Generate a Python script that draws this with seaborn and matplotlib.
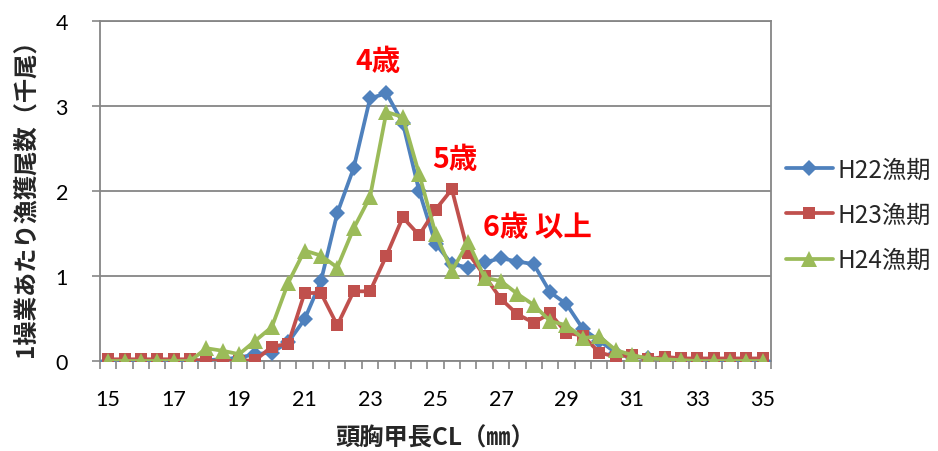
import numpy as np
import pandas as pd
import matplotlib
matplotlib.use("Agg")
import matplotlib.pyplot as plt
import seaborn as sns
from matplotlib.ticker import FixedLocator

# carapace length classes (mm)
sizes = [15, 15.5, 16, 16.5, 17, 17.5, 18, 18.5, 19, 19.5,
         20, 20.5, 21, 21.5, 22, 22.5, 23, 23.5, 24, 24.5,
         25, 25.5, 26, 26.5, 27, 27.5, 28, 28.5, 29, 29.5,
         30, 30.5, 31, 31.5, 32, 32.5, 33, 33.5, 34, 34.5, 35]

# catch per operation (thousand individuals)
h22 = [0, 0, 0, 0, 0, 0, 0.01, 0.02, 0.04, 0.08,
       0.10, 0.22, 0.49, 0.94, 1.74, 2.27, 3.09, 3.15, 2.80, 2.00,
       1.38, 1.14, 1.10, 1.16, 1.21, 1.17, 1.14, 0.81, 0.67, 0.38,
       0.24, 0.10, 0.05, 0.03, 0.02, 0.01, 0.01, 0, 0, 0, 0]
h23 = [0.02, 0.02, 0.02, 0.02, 0.02, 0.02, 0, 0, 0, 0.01,
       0.17, 0.20, 0.80, 0.80, 0.42, 0.82, 0.82, 1.24, 1.69, 1.48,
       1.78, 2.02, 1.27, 1.00, 0.73, 0.55, 0.45, 0.56, 0.33, 0.30,
       0.10, 0.05, 0.07, 0.02, 0.05, 0.03, 0.03, 0.03, 0.03, 0.03, 0.03]
h24 = [0, 0, 0, 0, 0, 0, 0.15, 0.12, 0.08, 0.24,
       0.40, 0.92, 1.30, 1.24, 1.10, 1.56, 1.93, 2.93, 2.87, 2.20,
       1.50, 1.06, 1.40, 0.98, 0.94, 0.79, 0.66, 0.47, 0.42, 0.27,
       0.29, 0.13, 0.07, 0.03, 0.02, 0.01, 0, 0, 0, 0, 0]

series_names = ["H22漁期", "H23漁期", "H24漁期"]
series_values = [h22, h23, h24]
colors = ["#4F81BD", "#C0504D", "#9BBB59"]
markers = ["D", "s", "^"]
marker_sizes = [8, 8.5, 11]

x_ticks = [15, 17, 19, 21, 23, 25, 27, 29, 31, 33, 35]
y_ticks = [0, 1, 2, 3, 4]

age_labels = ["4歳", "5歳", "6歳 以上"]
age_pos = [(23.25, 3.53), (25.6, 2.38), (28.1, 1.58)]

sns.set_theme(style="white")
plt.rcParams["font.family"] = ["Lato", "Noto Sans CJK JP", "DejaVu Sans"]

fig = plt.figure(figsize=(9.38, 4.52), dpi=100)
ax = fig.add_axes([100 / 938, 1 - 362 / 452, 671 / 938, 340 / 452])

for name, vals, col, mk, ms in zip(series_names, series_values, colors, markers, marker_sizes):
    df = pd.DataFrame({"size": sizes, "value": vals})
    sns.lineplot(data=df, x="size", y="value", ax=ax, color=col, linewidth=2.7,
                 marker=mk, markersize=ms, markeredgewidth=0, label=name,
                 zorder=3)

ax.set_xlim(14.75, 35.25)
ax.set_ylim(0, 4)
ax.set_yticks(y_ticks)
ax.set_xticks(x_ticks)
ax.xaxis.set_minor_locator(FixedLocator([14.75 + 0.5 * k for k in range(42)]))
ax.tick_params(axis="x", which="major", length=0, pad=20, labelsize=15.5, colors="black")
ax.tick_params(axis="x", which="minor", length=6, width=1.2, color="#868686", direction="out", bottom=True)
ax.tick_params(axis="y", which="major", length=6, width=1.2, color="#868686", direction="out",
               left=True, pad=17, labelsize=15.5, labelcolor="black")

ax.grid(axis="y", color="#868686", linewidth=1.3, zorder=0)
ax.grid(axis="x", visible=False)
for sp in ax.spines.values():
    sp.set_color("#868686")
    sp.set_linewidth(1.3)

cjk = ["Noto Sans CJK JP", "DejaVu Sans"]
ax.set_xlabel("頭胸甲長CL（㎜）", family=cjk, fontsize=17.5, fontweight="bold", labelpad=12)
ax.set_ylabel("1操業あたり漁獲尾数（千尾）", family=cjk, fontsize=17.5, fontweight="bold")
ax.yaxis.set_label_coords(-0.093, 0.5)

for txt, (tx, ty) in zip(age_labels, age_pos):
    ax.text(tx, ty, txt, color="#FF0000", family=cjk, fontsize=20.5, fontweight="bold",
            ha="center", va="center", zorder=5)

leg = ax.legend(loc="center left", bbox_to_anchor=(1.0, 0.43), frameon=False,
                prop={"family": cjk, "size": 17.5}, handlelength=1.95,
                labelspacing=0.8, handletextpad=0.2, borderaxespad=0.2)

fig.savefig("out.png", dpi=100)
